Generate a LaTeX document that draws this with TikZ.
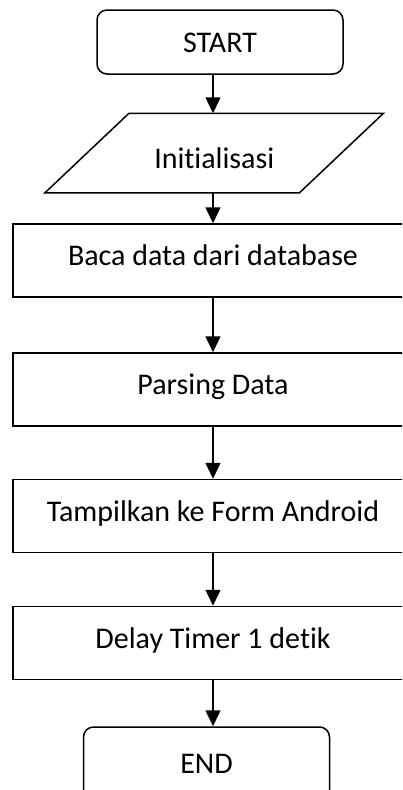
\documentclass[tikz,border=0pt]{standalone}
\usepackage{fontspec}
\setmainfont{Carlito}[Ligatures=NoCommon]
\usetikzlibrary{positioning,arrows.meta}

\begin{document}
\begin{tikzpicture}[x=1pt,y=-1pt,line width=1.5pt,
  every node/.style={font=\fontsize{30}{36}\selectfont,inner sep=0pt},
  term/.style={draw,rounded corners=10pt,minimum width=246pt,text height=20pt,text depth=0pt},
  stepbox/.style={draw,minimum width=400pt,minimum height=73pt,text height=21pt,text depth=11pt},
  arr/.style={-{Triangle[length=16pt,width=15pt]}}]
\clip (0,0) rectangle (402,790);
% terminals
\node[term,minimum height=64pt] (start) at (220,42) {START};
\node[term,minimum height=73pt] (fin) at (206.5,763.5) {END};
% input (parallelogram)
\node[minimum width=253pt,minimum height=78pt,text height=30pt,text depth=0pt] (init) at (214.25,153) {Initialisasi};
\draw ([xshift=42pt]init.north west) -- ([xshift=42pt]init.north east)
  -- ([xshift=-42pt]init.south east) -- ([xshift=-42pt]init.south west) -- cycle;
% process steps
\node[stepbox] (baca) at (213,260.5) {Baca data dari database};
\node[stepbox] (parse) at (213,389.5) {Parsing Data};
\node[stepbox] (tampil) at (213,516) {Tampilkan ke Form Android};
\node[stepbox] (delay) at (213,643) {Delay Timer 1 detik};
% flow
\draw[arr] (baca.north |- start.south) -- (baca.north |- init.north);
\draw[arr] (baca.north |- init.south) -- (baca.north);
\draw[arr] (baca) -- (parse);
\draw[arr] (parse) -- (tampil);
\draw[arr] (tampil) -- (delay);
\draw[arr] (delay.south) -- (delay.south |- fin.north);
\end{tikzpicture}
\end{document}
